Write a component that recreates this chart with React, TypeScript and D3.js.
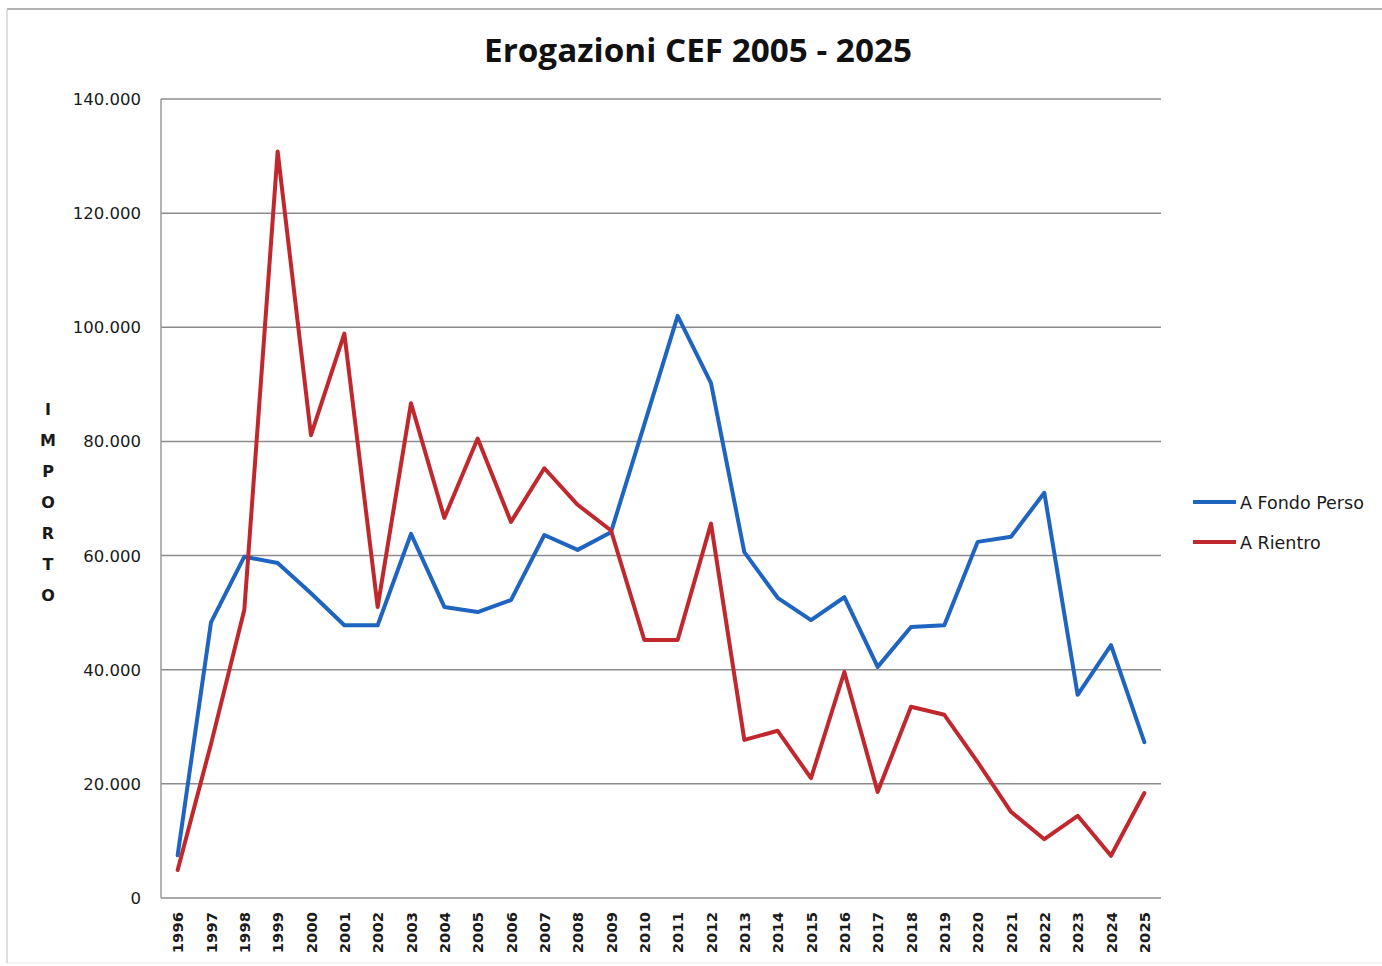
import React from "react";
import * as d3 from "d3";

const years = [
  "1996","1997","1998","1999","2000","2001","2002","2003","2004","2005",
  "2006","2007","2008","2009","2010","2011","2012","2013","2014","2015",
  "2016","2017","2018","2019","2020","2021","2022","2023","2024","2025",
];
const fondoPerso = [
  7500, 48300, 59800, 58700, 53400, 47800, 47800, 63800, 51000, 50100,
  52200, 63600, 61000, 64100, 83000, 102000, 90200, 60600, 52600, 48700,
  52700, 40500, 47500, 47800, 62400, 63300, 71000, 35600, 44300, 27300,
];
const rientro = [
  4900, 27000, 50500, 130800, 81100, 98900, 51000, 86700, 66600, 80500,
  65900, 75300, 68900, 64400, 45200, 45200, 65600, 27700, 29300, 21000,
  39600, 18600, 33500, 32100, 23800, 15100, 10300, 14400, 7400, 18400,
];
const yTicks = [0, 20000, 40000, 60000, 80000, 100000, 120000, 140000];
const seriesNames = ["A Fondo Perso", "A Rientro"];
const seriesColors = ["#1f64c0", "#c1282e"];
const axisLetters = ["I", "M", "P", "O", "R", "T", "O"];

const W = 1382, H = 966;
const left = 161, right = 1161, top = 99, bottom = 898;

export default function App() {
  const x = d3.scaleBand<string>().domain(years).range([left, right]);
  const y = d3.scaleLinear().domain([0, 140000]).range([bottom, top]);
  const cx = (d: string) => (x(d) as number) + x.bandwidth() / 2;
  const line = d3
    .line<number>()
    .x((_, i) => cx(years[i]))
    .y((v) => y(v));
  const fmt = (v: number) =>
    v === 0 ? "0" : d3.format(",")(v).replace(/,/g, ".");
  const series = [fondoPerso, rientro];

  return (
    <svg
      width={W}
      height={H}
      style={{ position: "absolute", left: 0, top: 0, background: "#fff" }}
      fontFamily="DejaVu Sans"
    >
      <rect x={0} y={0} width={W} height={H} fill="#fff" />
      {/* outer frame */}
      <line x1={7} x2={W} y1={9} y2={9} stroke="#9a9a9a" strokeWidth={1.5} />
      <line x1={7} x2={7} y1={9} y2={963} stroke="#c8c8c8" strokeWidth={1.2} />
      <line x1={7} x2={W} y1={963} y2={963} stroke="#e6e6e6" strokeWidth={1} />

      <text
        x={698}
        y={62}
        textAnchor="middle"
        fontFamily="Open Sans"
        fontWeight="bold"
        fontSize={32}
        fill="#111"
        textLength={428}
        lengthAdjust="spacingAndGlyphs"
      >
        Erogazioni CEF 2005 - 2025
      </text>

      {/* grid */}
      {yTicks.map((t) => (
        <g key={t}>
          <line
            x1={left}
            x2={right}
            y1={y(t)}
            y2={y(t)}
            stroke="#8c8c8c"
            strokeWidth={1.5}
          />
          <text
            x={141}
            y={y(t) + 6}
            textAnchor="end"
            fontSize={16.5}
            fill="#1a1a1a"
          >
            {fmt(t)}
          </text>
        </g>
      ))}
      <line x1={left} x2={left} y1={top} y2={bottom} stroke="#9a9a9a" strokeWidth={1.5} />

      {/* x labels */}
      {years.map((yr) => (
        <text
          key={yr}
          transform={`translate(${cx(yr) + 5.5},912) rotate(-90)`}
          textAnchor="end"
          fontSize={14.8}
          fontWeight="bold"
          fill="#1a1a1a"
        >
          {yr}
        </text>
      ))}

      {/* axis title */}
      {axisLetters.map((l, i) => (
        <text
          key={i}
          x={48}
          y={415 + i * 31}
          textAnchor="middle"
          fontSize={16}
          fontWeight="bold"
          fill="#1a1a1a"
        >
          {l}
        </text>
      ))}

      {/* lines */}
      {series.map((s, i) => (
        <path
          key={i}
          d={line(s) || ""}
          fill="none"
          stroke={seriesColors[i]}
          strokeWidth={4}
          strokeLinejoin="round"
          strokeLinecap="round"
        />
      ))}

      {/* legend */}
      {seriesNames.map((n, i) => (
        <g key={n}>
          <line
            x1={1193}
            x2={1236}
            y1={502 + i * 40}
            y2={502 + i * 40}
            stroke={seriesColors[i]}
            strokeWidth={4}
          />
          <text x={1240} y={509 + i * 40} fontSize={17.5} fill="#1a1a1a">
            {n}
          </text>
        </g>
      ))}
    </svg>
  );
}
